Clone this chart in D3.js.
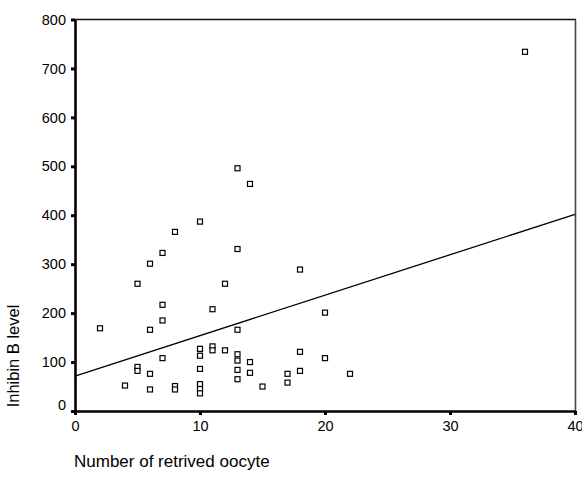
<!DOCTYPE html>
<html>
<head>
<meta charset="utf-8">
<script src="https://cdn.jsdelivr.net/npm/d3@7.9.0/dist/d3.min.js"></script>
<style>
  body { margin: 0; background: #fff; }
  svg { display: block; font-family: "Liberation Sans", Arial, sans-serif; }
</style>
</head>
<body>
<svg width="582" height="478"></svg>
<script>
// data (number of oocytes vs inhibin B)
const oocytes = [2, 4, 5, 5, 5, 6, 6, 6, 6, 7, 7, 7, 7, 8, 8, 8,
  10, 10, 10, 10, 10, 10, 10, 11, 11, 11, 12, 12,
  13, 13, 13, 13, 13, 13, 13, 14, 14, 14, 15, 17, 17,
  18, 18, 18, 20, 20, 22, 36];
const inhibinB = [169, 52, 260, 90, 82, 301, 166, 76, 44, 323, 217, 185, 108, 366, 51, 44,
  387, 127, 113, 86, 55, 45, 36, 208, 132, 124, 260, 124,
  496, 331, 166, 116, 103, 84, 65, 464, 100, 78, 50, 76, 58,
  289, 121, 82, 201, 108, 76, 734];

// fitted line as drawn in the chart
const fitIntercept = 71.5;
const fitSlope = 8.26;

const xTicks = [0, 10, 20, 30, 40];
const yTicks = [0, 100, 200, 300, 400, 500, 600, 700, 800];

const svg = d3.select('svg');

let x = d3.scaleLinear().domain([0, 40]).range([75, 575]);
let y = d3.scaleLinear().domain([0, 800]).range([411, 19.5]);

// frame: thin top and right lines
svg.append('line')
  .attr('x1', x(0)).attr('x2', x(40) + 1)
  .attr('y1', y(800)).attr('y2', y(800))
  .attr('stroke', '#111').attr('stroke-width', 1.3);
svg.append('line')
  .attr('x1', x(40) + 0.5).attr('x2', x(40) + 0.5)
  .attr('y1', y(800)).attr('y2', y(0))
  .attr('stroke', '#444').attr('stroke-width', 1.6);

// axes
let yAxis = svg.append('g')
  .attr('transform', `translate(${x(0)},0)`)
  .call(d3.axisLeft(y).tickValues(yTicks).tickSize(4).tickSizeOuter(0).tickPadding(5));
let xAxis = svg.append('g')
  .attr('transform', `translate(0,${y(0)})`)
  .call(d3.axisBottom(x).tickValues(xTicks).tickSize(4).tickSizeOuter(0).tickPadding(6));

[yAxis, xAxis].forEach(g => {
  g.select('.domain').attr('stroke', '#000').attr('stroke-width', 2.6);
  g.selectAll('.tick line').attr('stroke', '#000').attr('stroke-width', 3);
  g.selectAll('.tick text')
    .attr('fill', '#000')
    .style('font-family', '"Liberation Sans", Arial, sans-serif')
    .style('font-size', '14.5px');
});

// the zero label on the y axis sits a little above its tick
yAxis.selectAll('.tick')
  .filter(d => d === 0)
  .select('text')
  .attr('y', -6);

// regression line
svg.append('line')
  .attr('x1', x(0)).attr('y1', y(fitIntercept))
  .attr('x2', x(40)).attr('y2', y(fitIntercept + fitSlope * 40))
  .attr('stroke', '#000').attr('stroke-width', 1.3);

// points as hollow squares
let points = oocytes.map((d, i) => ({ n: d, v: inhibinB[i] }));
svg.append('g')
  .selectAll('rect')
  .data(points)
  .join('rect')
  .attr('x', d => x(d.n) - 2.5)
  .attr('y', d => y(d.v) - 2.5)
  .attr('width', 5)
  .attr('height', 5)
  .attr('fill', '#fff')
  .attr('stroke', '#000')
  .attr('stroke-width', 1.2);

// axis titles
svg.append('text')
  .attr('transform', 'translate(19,356) rotate(-90)')
  .attr('text-anchor', 'middle')
  .style('font-size', '16.5px')
  .text('Inhibin B level');

svg.append('text')
  .attr('x', 74)
  .attr('y', 467)
  .style('font-size', '17px')
  .text('Number of retrived oocyte');
</script>
</body>
</html>
